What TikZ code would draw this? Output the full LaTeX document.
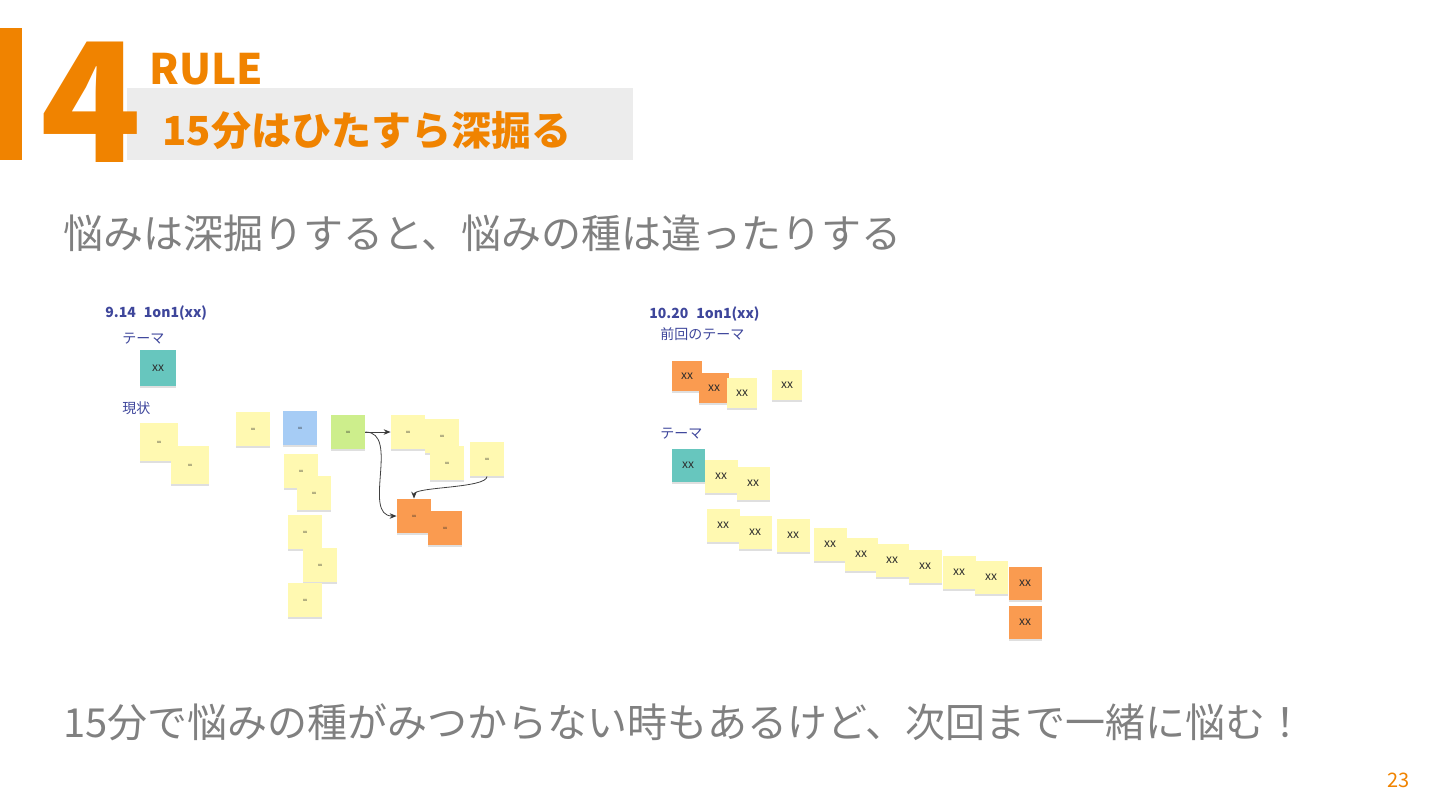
\documentclass[tikz,border=0pt]{standalone}
\usepackage{fontspec}
\setmainfont{Noto Sans CJK JP}
\usepackage{tikz}
\usetikzlibrary{shadows}
\usetikzlibrary{arrows.meta}

\definecolor{accent}{RGB}{240,131,0}
\definecolor{boxgray}{RGB}{236,236,236}
\definecolor{leadgray}{RGB}{128,128,128}
\definecolor{labelblue}{RGB}{62,70,155}
\definecolor{noteyellow}{RGB}{255,249,177}
\definecolor{noteblue}{RGB}{166,204,245}
\definecolor{notegreen}{RGB}{205,238,140}
\definecolor{noteorange}{RGB}{250,155,80}
\definecolor{noteteal}{RGB}{103,198,190}
\definecolor{notetext}{RGB}{45,45,45}

\begin{document}
\begin{tikzpicture}[x=0.5pt,y=-0.5pt,>={Stealth[length=3.5pt,width=2.8pt]}]
\tikzset{sticky/.style={inner sep=0pt,minimum size=16.5pt,text=notetext,font=\fontsize{6}{6}\selectfont,drop shadow={shadow xshift=0pt,shadow yshift=-1.2pt,opacity=0.25}}}
\tikzset{small note/.style={sticky,minimum size=17pt,font=\fontsize{2}{2}\selectfont}}
\tikzset{tag/.style={anchor=base west,inner sep=0pt,text=labelblue,font=\fontsize{7}{7}\selectfont}}
\useasboundingbox (0,0) rectangle (1440,810);

% header
\fill[boxgray] (127,88) rectangle (633,160);
\fill[accent] (0,28) rectangle (22,160);
\node (num) at (40,162) [anchor=base west,inner sep=0pt,text=accent,font=\bfseries\fontsize{83}{83}\selectfont] {4};
\node (rule) at (149,84) [anchor=base west,inner sep=0pt,text=accent,font=\bfseries\fontsize{21}{21}\selectfont] {RULE};
\node (title) at (162,145) [anchor=base west,inner sep=0pt,text=accent,font=\bfseries\fontsize{20}{20}\selectfont] {15分はひたすら深掘る};

\node (lead) at (63,248) [anchor=base west,inner sep=0pt,text=leadgray,font=\fontsize{20}{20}\selectfont] {悩みは深掘りすると、悩みの種は違ったりする};
\node (foot) at (63,737) [anchor=base west,inner sep=0pt,text=leadgray,font=\fontsize{20}{20}\selectfont] {15分で悩みの種がみつからない時もあるけど、次回まで一緒に悩む！};
\node (page) at (1410,787) [anchor=base east,inner sep=0pt,text=accent,font=\fontsize{10}{10}\selectfont] {23};

% board 9.14
\node (date1) at (105,317) [tag,font=\bfseries\fontsize{7}{7}\selectfont] {9.14\hspace{4pt}1on1(xx)};
\node (theme1) at (122,343) [tag] {テーマ};
\node (now1) at (122,413) [tag] {現状};

\node (t1) at (158,368) [sticky,fill=noteteal,minimum size=18pt] {xx};
\node (s1) at (159,442) [small note,fill=noteyellow,minimum size=19pt] {xx};
\node (s2) at (190,465) [small note,fill=noteyellow,minimum size=19pt] {xx};

\node (y1) at (253,429) [small note,fill=noteyellow] {xx};
\node (b1) at (300,428) [small note,fill=noteblue] {xx};
\node (g1) at (348,432) [small note,fill=notegreen] {xx};
\node (c1) at (301,471) [small note,fill=noteyellow] {xx};
\node (c2) at (314,493) [small note,fill=noteyellow] {xx};
\node (c3) at (305,532) [small note,fill=noteyellow] {xx};
\node (c4) at (320,565) [small note,fill=noteyellow] {xx};
\node (c5) at (305,600) [small note,fill=noteyellow] {xx};

\node (y2) at (408,432) [small note,fill=noteyellow] {xx};
\node (y3) at (442,436) [small note,fill=noteyellow] {xx};
\node (y4) at (447,463) [small note,fill=noteyellow] {xx};
\node (y5) at (487,459) [small note,fill=noteyellow] {xx};
\node (o1) at (414,516) [small note,fill=noteorange] {xx};
\node (o2) at (445,528) [small note,fill=noteorange] {xx};

\path[draw=black!75,line width=0.4pt]
(g1.east) edge [->] (y2.west)
(g1.east) edge [->,out=0,in=180] (o1.west)
(y5.south) edge [->,out=-90,in=90,looseness=0.4] (o1.north);

% board 10.20
\node (date2) at (649,318) [tag,font=\bfseries\fontsize{7}{7}\selectfont] {10.20\hspace{4pt}1on1(xx)};
\node (last2) at (660,339) [tag] {前回のテーマ};
\node (theme2) at (660,438) [tag] {テーマ};

\node (p1) at (687,376) [sticky,fill=noteorange,minimum size=15pt] {xx};
\node (p2) at (714,388) [sticky,fill=noteorange,minimum size=15pt] {xx};
\node (p3) at (742,393) [sticky,fill=noteyellow,minimum size=15pt] {xx};
\node (p4) at (787,385) [sticky,fill=noteyellow,minimum size=15pt] {xx};

\node (t2) at (688,465) [sticky,fill=noteteal] {xx};
\node (q1) at (721,476) [sticky,fill=noteyellow] {xx};
\node (q2) at (753,483) [sticky,fill=noteyellow] {xx};

\node (r1) at (723,525) [sticky,fill=noteyellow] {xx};
\node (r2) at (755,532) [sticky,fill=noteyellow] {xx};
\node (r3) at (793,535) [sticky,fill=noteyellow] {xx};
\node (r4) at (830,544) [sticky,fill=noteyellow] {xx};
\node (r5) at (861,554) [sticky,fill=noteyellow] {xx};
\node (r6) at (892,560) [sticky,fill=noteyellow] {xx};
\node (r7) at (925,566) [sticky,fill=noteyellow] {xx};
\node (r8) at (959,572) [sticky,fill=noteyellow] {xx};
\node (r9) at (991,577) [sticky,fill=noteyellow] {xx};
\node (r10) at (1025,583) [sticky,fill=noteorange] {xx};
\node (r11) at (1025,622) [sticky,fill=noteorange] {xx};
\end{tikzpicture}
\end{document}
